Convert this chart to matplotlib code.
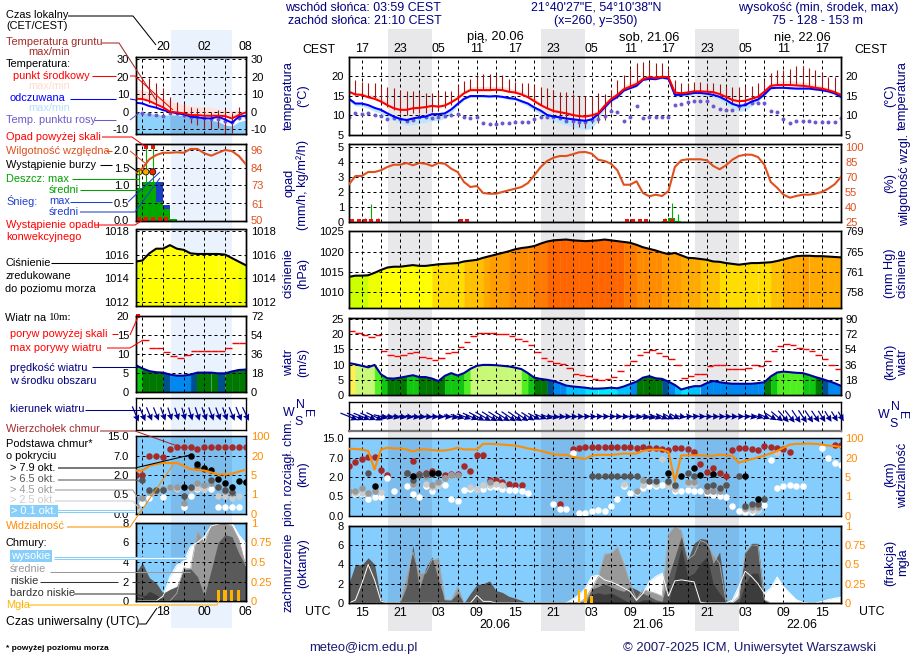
import numpy as np
import matplotlib
matplotlib.use('Agg')
import matplotlib.pyplot as plt
from matplotlib.colors import ListedColormap, BoundaryNorm

plt.rcParams['font.family'] = ['Liberation Sans', 'DejaVu Sans']

W, H = 910, 660
FS = 8.9    # header, dates, axis titles
LFS = 7.9   # left legend
YFS = 8.0   # y tick labels
NAVY = '#000080'
ORANGE = '#ff8c00'
HUMID = '#e0501e'

# Hours counted from 19.06 00 UTC
hours = list(range(13, 91))
grid_hours = list(range(15, 90, 3))
cest_labels = ['17', '23', '05', '11', '17', '23', '05', '11', '17', '23', '05', '11', '17']
utc_labels = ['15', '21', '03', '09', '15', '21', '03', '09', '15', '21', '03', '09', '15']

temp_mid = [16.0, 15.3, 15.2, 14.6, 14.2, 13.5, 12.6, 11.8, 11.4, 11.4, 11.8, 11.9, 12.1, 12.4, 12.2, 12.5, 13.3, 14.3, 15.6, 16.4,
            16.4, 16.4, 16.4, 16.5, 16.4, 16.0, 15.8, 15.3, 14.6, 13.6, 12.6, 11.8, 11.1, 10.8, 10.5, 10.1, 9.8, 9.7, 10.0,
            10.5, 12.4, 14.1, 15.2, 16.6, 17.3, 18, 19.2, 19.7, 19.5, 19.8, 19.7, 15.8, 15.6, 15.8, 16.1, 16.1, 16, 15.9, 15.4,
            14.7, 13.9, 13.6, 13.7, 14.2, 14.7, 16, 17.5, 17.7, 17.7, 17.7, 17.6, 17.5, 17.3, 17, 16.8, 16.4, 15.9, 15.2]
temp_app = [14.2, 13, 13, 12.6, 11.9, 11.4, 10.5, 9.7, 9.1, 8.8, 9.2, 9.5, 9.7, 10.3, 10.3, 10.5, 11.5, 12.9, 14.2, 14.9,
            14.9, 14.9, 14.8, 14.9, 14.7, 14.4, 14.2, 13.6, 13, 12, 11.2, 10.1, 9.7, 9.5, 9.2, 9, 8.8, 8.6, 9, 10.3,
            12, 13.7, 14.7, 16.3, 16.9, 17.5, 19, 19.3, 19.2, 19.6, 19.3, 15.2, 15.2, 15.4, 15.7, 15.7, 15.5, 15.2, 14.7,
            13.9, 12.9, 12.4, 12.6, 13.5, 14, 15.3, 16.9, 17, 17, 16.9, 16.8, 16.8, 16.8, 16.6, 16.4, 16.1, 15.6, 14.7]
temp_hi = [16.3, 15.8, 15.7, 15.3, 15.1, 14.5, 13.4, 12.6, 12.2, 12.1, 12.4, 12.4, 12.6, 12.8, 12.7, 13, 14, 15.2, 16.4, 17.2,
           17.4, 17.4, 17.4, 17.4, 17.3, 17, 16.6, 16.1, 15.3, 14.4, 13.3, 12.4, 11.8, 11.5, 11.2, 10.8, 10.5, 10.3, 10.6,
           11.4, 13.2, 14.9, 16, 17.6, 18.4, 19, 20, 20.2, 20.1, 20.2, 20.1, 16.1, 16, 16.2, 16.5, 16.5, 16.4, 16.3, 15.8,
           15.2, 14.4, 14, 14.1, 14.6, 15.2, 16.5, 18.2, 18.6, 18.8, 18.8, 18.7, 18.5, 18.2, 17.9, 17.5, 17, 16.4, 15.6]
temp_lo = [13.6, 12.4, 12.3, 11.8, 11, 10.5, 9.5, 8.6, 8, 7.5, 7.6, 8, 8.2, 8.6, 8.7, 9.2, 10.6, 12.4, 13.9, 14.6,
           14.6, 14.6, 14.5, 14.6, 14.4, 14, 13.8, 13.1, 12.3, 11.2, 10.2, 9.2, 8.5, 8, 7.5, 7, 6.6, 6.3, 6.7, 8.9,
           11.4, 13.4, 14.4, 16, 16.7, 17.3, 18.8, 19.1, 19, 19.4, 19, 14.6, 14.8, 15, 15.2, 15.2, 15, 14.6, 13.9,
           12.8, 11.8, 11, 11.2, 12.4, 13.5, 15, 16.7, 16.9, 16.9, 16.7, 16.6, 16.6, 16.6, 16.4, 16.2, 15.8, 15.2, 14]
dew_point = [9.7, 10.7, 10.3, 10.7, 10, 9.8, 9, 9.2, 9, 8.6, 8.8, 9.5, 9.7, 9.2, 9.5, 9.8, 10.1, 10.3, 9.5, 9.2,
             9.7, 8.1, 7.8, 7.8, 8.1, 8.1, 8.2, 8.2, 8.4, 9.1, 9.5, 9.5, 9.5, 9.2, 8.6, 8.6, 8.4, 8.2, 8.8, 9,
             9.9, 11.1, 10.9, 8.6, 9.7, 12.4, 9.2, 9.5, 9.7, 9.5, 9.5, 12.6, 12.9, 13.4, 13.6, 13.6, 13.7, 12.4, 11.6,
             11.4, 11.4, 12.4, 12.8, 13.1, 13.2, 13.1, 11.1, 10.9, 9, 8, 8.6, 8.6, 8.6, 8.3, 8.2, 8.2, 8.2, 9.4]
soil_hours = list(range(14, 90))
soil_max = [19, 18.6, 18.3, 18.1, 17.5, 17.1, 16.9, 16.3, 16.3, 16.1, 16, 15.8, 15.8, 16, 16.1, 16.3, 17.7, 18.7, 19.3, 20,
            20.4, 20.5, 20.5, 20.2, 19.3, 18.6, 18.3, 18.1, 17.7, 17.1, 16.9, 16.4, 16, 15.9, 15.3, 14.9, 15, 14.9,
            15.6, 15.3, 16.4, 19, 20.3, 21.9, 23.2, 23.5, 23.6, 23.4, 23.2, 21.7, 19, 18.1, 18.3, 18.4, 18.4, 18.3, 18.1,
            18, 17.5, 17.1, 17.1, 17.5, 17.5, 18.1, 19, 20.7, 21.4, 21.5, 21.9, 22.6, 22.6, 22.1, 21.5, 20.7, 19.8, 19.7]
soil_min = [15.2, 15.2, 14.7, 14.3, 13.5, 12.2, 11.4, 10.5, 10.1, 10.5, 10.5, 10.5, 10.8, 11.4, 11.8, 12.6, 13, 15.6, 16.4, 16.4,
            16.4, 16.4, 16.4, 16.4, 16.2, 15.8, 15.4, 14.7, 13.9, 12.6, 11.8, 10.9, 10.1, 8.4, 7.1, 7.1, 6.7, 9.2,
            8, 8.8, 12.2, 14.3, 16.4, 17.3, 18.1, 19.2, 19.7, 19.7, 20, 19.4, 15.2, 15.4, 15.8, 16, 16, 15.8, 15.6,
            15.2, 14.3, 13, 11.4, 13, 14.1, 14.7, 16.3, 17.5, 17.7, 17.7, 17.7, 17.7, 17.7, 17.5, 17.1, 16.9, 16.4, 15.9]

humidity = [62.7, 71, 71, 75, 75, 76.7, 80, 82.3, 82.3, 84, 81.7, 84, 83.3, 81, 84, 83.3, 78.3, 75, 65, 60,
            61, 54, 53.3, 53.3, 55, 56.7, 58.3, 60, 64, 71.7, 80, 86, 89.3, 91, 91, 92.7, 94.7, 95, 93.3, 87.3,
            86, 83.3, 76.7, 62.3, 62.3, 65.7, 54, 50.7, 52.3, 51, 56, 80, 86.7, 87.7, 87.7, 87.7, 86.7, 81, 77.7,
            81.7, 87.3, 91, 92.3, 92.3, 90, 82.3, 65, 59.3, 52.3, 49.3, 51, 52.3, 52.3, 53.3, 55, 58.3, 62.7, 70]
rain_spike_hours = [15.5, 16.5, 17.5, 62.5, 63.5, 64.5, 65.5]
rain_spike_max = [0.25, 1.2, 0.25, 0.25, 1.3, 0.55, 0.1]
rain_bar_hours = [62, 63, 64]
rain_bar_mean = [0.08, 0.3, 0.1]
convective_hours = [13.5, 14.5, 15.5, 16.5, 17.5, 30.5, 31.5, 56.5, 57.5, 58.5, 59.5, 62.5, 63.5]

pressure = [1013.8, 1014.1, 1014.1, 1014.2, 1014.8, 1015.5, 1016.1, 1016.3, 1016.3, 1016.5, 1016.7, 1016.5, 1016.5, 1016.7, 1016.9, 1017, 1017.1, 1017.2, 1017.6, 1017.8,
            1018, 1018.5, 1018.9, 1019.3, 1019.7, 1020.1, 1020.6, 1020.9, 1021.1, 1021.4, 1022, 1022.5, 1022.8, 1022.9, 1023, 1022.8, 1022.7, 1022.6, 1022.7, 1022.8,
            1023, 1022.8, 1022.6, 1022.4, 1022.2, 1021.7, 1021.1, 1020.7, 1020.3, 1019.8, 1019.4, 1019.7, 1019.1, 1018.5, 1018.4, 1018.2, 1018, 1017.6, 1017.5,
            1017.2, 1017, 1016.8, 1017, 1017.2, 1017.2, 1017.3, 1017.4, 1017.7, 1018.1, 1018.5, 1018.9, 1019, 1019, 1018.9, 1018.9, 1018.8, 1018.7, 1018.6]
pressure_levels = [1000, 1014.5, 1015.5, 1016.7, 1017.5, 1018.3, 1019, 1020, 1021.5, 1022.5, 1030]
pressure_colors = ['#ccff00', '#eeff00', '#ffff00', '#ffdd00', '#ffc000', '#ffaa00', '#ff9c00', '#ff8c00', '#ff7a00', '#ff6600']

wind = [10.5, 10.1, 9.6, 9.1, 9.9, 6.8, 5.5, 5.4, 5.7, 6.1, 6.5, 5.9, 5.9, 5.4, 4.6, 6.3, 7.2, 6.4, 7.2, 8.6,
        9.6, 9.9, 9.9, 9.8, 9.6, 9.4, 9, 8.5, 7.2, 5.7, 5.3, 5, 4.6, 3.9, 3.1, 2.8, 2.6, 2.4, 2.1, 2.1,
        2.2, 2.4, 2.2, 2.8, 3.6, 4.4, 5.7, 6.2, 5.5, 5.3, 4.4, 3.3, 1.8, 2.4, 2.9, 2.9, 3.9, 4.6, 4.2,
        3.9, 3.7, 3.7, 3.7, 3.7, 3.9, 4.2, 6.1, 7.4, 7.7, 7.5, 7.3, 7.2, 6.6, 5.9, 5.3, 4.6, 3.9, 3]
gust_hours = list(range(13, 90))
gust = [21, 20.3, 19.7, 19.1, 19.7, 14.6, 13.1, 12.7, 13, 13.7, 14, 12.6, 12.2, 11.5, 12.1, 13.9, 14.2, 15.7, 17.4, 19.4,
        20.4, 20.4, 20.4, 20.2, 20, 19.4, 18.3, 17.6, 16.4, 14.1, 12.1, 11.2, 10.5, 10.1, 8.8, 7, 6.7, 6.1, 5.4,
        5, 5.3, 5.9, 7.9, 9.9, 11.2, 13, 14.3, 14.8, 13.8, 12.9, 11.8, 9.8, 5.5, 6.2, 6.8, 6.8, 9.5, 9.8, 9.8,
        8.5, 8.5, 8.5, 8.8, 9.8, 9.5, 11.2, 14.4, 16.1, 16.8, 16.4, 15.4, 15.1, 14.4, 13.1, 11.8, 9.8, 8.5]
wind_levels = [0, 2.5, 3.4, 4.5, 5, 6, 7, 8.5, 10, 30]
wind_colors = ['#00e8ff', '#00c0ff', '#0088f0', '#005090', '#007800', '#10c810', '#50f020', '#c8f878', '#fff050']
wind_from = [292, 292, 292, 294, 296, 284, 284, 282, 280, 278, 278, 276, 276, 275, 276, 275, 282, 286, 290, 294, 298, 300, 302,
             302, 302, 304, 304, 304, 302, 298, 292, 286, 280, 276, 274, 272, 270, 268, 270, 268,
             270, 272, 274, 276, 278, 280, 282, 284, 288, 294, 298, 300, 278, 266, 266, 270, 272, 272, 272, 272, 272, 270, 272,
             280, 286, 294, 302, 310, 318, 322, 326, 326, 326, 326, 328, 328, 328, 330]

tops_h = [13, 14, 15, 16, 17, 18, 19, 22, 23, 24, 25, 26, 28, 29, 30, 31, 32, 33, 34, 35, 36, 37, 38, 39, 40, 46, 48, 49, 50,
          51, 52, 53, 54, 55, 56, 57, 58, 59, 60, 61, 62, 63, 64, 65, 66, 67, 68, 69, 70, 71, 72, 73, 74, 75, 76, 77, 78, 79, 80, 81, 82, 89, 90]
tops_km = [4.8, 5.9, 6.6, 7.4, 7.4, 3.8, 2.6, 2.9, 6.1, 2.8, 2.9, 3.5, 2.6, 2.8, 2.8, 4.8, 3.5, 8.1, 8.1, 1.75, 1.75, 1.6, 1.5, 1.35, 1.35, 0.31, 10.3, 10.7, 11.4,
           11.4, 11.4, 11.4, 11.4, 11.4, 11.4, 11.4, 10.7, 11.4, 11, 11, 10.6, 10.1, 11, 11, 10.6, 9.4, 5.4, 3.2, 4.4, 2.9, 2.2, 10.1, 11, 11, 10.3, 10.1, 11.7, 11.4, 11, 10.3, 9.4, 12.3, 12.1]
black_h = [17, 23, 26, 27, 63, 65, 67, 68, 70, 75, 77]
black_km = [1.28, 2.35, 3.1, 3.1, 3.1, 2.2, 4.2, 2.6, 2.8, 2.2, 0.44]
dark_h = [16, 22, 23, 24, 25, 26, 51, 52, 53, 54, 55, 56, 57, 58, 60, 61, 63, 64, 66, 67, 69, 70, 71, 72, 74, 75, 76, 77, 78]
dark_km = [3.1, 2.9, 1.8, 2.6, 2.8, 2.8, 2.3, 2.3, 2.3, 2.3, 2.3, 2.3, 2.3, 2.3, 1.66, 1.66, 1.7, 1.35, 2.9, 2.3, 1.3, 1.4, 1.15, 1.4, 2.2, 0.25, 0.3, 0.3, 0.43]
gray_h = [13, 14, 15, 16, 17, 22, 23, 24, 25, 26, 27, 28, 29, 30, 35, 58, 59, 63, 64, 66, 67, 69, 70, 71, 72, 75, 76, 77]
gray_km = [0.95, 0.95, 1.15, 0.8, 0.95, 2.9, 1.5, 2.6, 2.2, 1.4, 1.65, 1.95, 2.6, 2.6, 1.65, 0.9, 1.8, 1.6, 1.3, 1.65, 1.65, 0.95, 0.95, 0.9, 1.4, 0.2, 0.22, 0.24]
light_h = [13, 14, 15, 17, 18, 23, 25, 26, 27, 28, 29, 32, 33, 34, 35, 36, 37, 56, 58, 59, 61, 62, 63, 64, 66, 67, 69, 70, 71, 75, 76, 77, 80]
light_km = [0.95, 0.76, 0.8, 0.9, 0.85, 1.4, 1.5, 1.25, 1.4, 1.9, 2.4, 1.2, 1.07, 1.35, 1.4, 1.5, 1.4, 1.5, 0.95, 1.4, 1.45, 6.6, 1.28, 1.1, 1.45, 1.5, 0.95, 0.9, 0.9, 0.17, 0.16, 0.16, 9]
white_h = [14, 15, 16, 17, 18, 19, 20, 22, 23, 24, 25, 26, 27, 28, 29, 30, 31, 32, 33, 34, 35, 36, 37, 38, 39, 40, 41, 45, 46, 47, 48, 49, 50, 51, 52,
           53, 54, 55, 56, 57, 58, 59, 60, 61, 62, 63, 64, 65, 66, 67, 68, 69, 70, 71, 72, 73, 74, 75, 76, 77, 78, 79, 80, 81, 82, 83, 84, 87, 88, 89, 90]
white_km = [0.68, 0.68, 0.44, 0.5, 0.48, 1.92, 0.94, 1.28, 0.71, 0.48, 1.28, 0.94, 1.4, 1.4, 0.43, 0.39, 1.02, 1.09, 1.07, 1.09, 1.2, 1.22, 1.07, 1.02, 1.02, 0.94, 0.76, 0.31, 0.19, 0.19, 9, 0.07, 0.07, 0.14, 0.16,
            0.14, 0.26, 0.44, 1.28, 0.76, 0.84, 1.15, 1.28, 1.28, 1.35, 1.28, 0.94, 0.94, 1.02, 0.94, 0.94, 0.76, 0.63, 0.55, 0.5, 0.26, 0.14, 0.11, 0.09, 0.16, 0.28, 6.3, 1.15, 1.28, 1.4, 1.28, 1.28, 11, 6.8, 5.7, 5.2]
visibility = [56, 55, 53, 47, 10.8, 53, 60, 57, 57, 53, 45, 53, 53, 51, 48, 49, 53, 60, 53, 53, 53, 76, 76, 75, 73, 71, 69, 64, 57, 53, 47, 40, 33, 31, 31, 23, 19.5, 19,
              28, 31, 31, 31, 33, 36, 36, 36, 47, 52, 52, 52, 43, 4.1, 29, 29, 29, 29, 27, 27, 32, 29, 27, 16, 17.4, 18.7, 20, 28, 37, 47, 60, 73, 76, 76, 77, 76, 73, 69, 67, 63]

cloud_high = [0, 0.3, 2, 4, 2.4, 0.2, 0, 0, 0, 0, 0, 0, 0, 0, 0, 0, 0, 0, 0, 0, 0.8, 0.17, 0.17,
              0, 0, 0, 0, 0, 0, 0, 0, 0, 0, 0, 0, 0.4, 0.86, 1.55,
              2.75, 2.9, 2.4, 2.2, 1.9, 1.55, 1.2, 0.27, 1, 2.2, 2.75, 3.1, 0.7, 2.3, 2.4, 2.3, 2.2, 0.07, 0, 0, 0, 0, 0.3, 1.7,
              3.3, 2.75, 2, 1, 1.55, 2.7, 1.7, 1, 0.34, 0.07, 0, 0, 0.17, 0.34, 0.5, 0.6]
cloud_medium = [0, 0, 0, 0, 0, 0, 0, 0, 0.07, 2.75, 5.3, 3.1, 3.1, 4.5, 4.6, 0.34, 0.3, 1.7, 0,
                0, 0, 0, 0, 0, 0, 0, 0, 0, 0, 0, 0, 0, 0, 0, 0, 0, 0, 0.5,
                1.55, 2.75, 5.1, 5.15, 5.84, 4.1, 2, 0.34, 1.4, 1.2, 1, 0.7, 7.2, 8, 7.56, 4.5, 5, 6.5, 6.2, 5, 4.1, 0.17, 0, 0.7,
                5.15, 6, 6, 0.34, 0, 0, 0, 0, 0, 0, 0, 0, 0, 0, 0, 0]
cloud_low = [2.06, 4.02, 3.95, 4.7, 4.02, 0.34, 0.07, 0.07, 0.07, 1.7, 6, 1.44, 3.6, 4.8, 2.4, 0.34, 0.34, 1, 0, 1, 1.9, 2, 2.3, 1.3, 1.1, 0.7, 0.5, 0.27, 0,
             0, 0, 0, 0.07, 0.14, 0.03, 0, 0, 0,
             1.44, 1.7, 2, 1.7, 1.4, 1.2, 1.7, 1.4, 1, 0.7, 0.34, 0.17, 2.75, 4.8, 6.9, 4.5, 6.2, 6.7, 6.6, 4.1, 5.3, 0.34, 0, 0.5,
             5.3, 6.2, 6.2, 0.34, 0, 0, 0.05, 0.05, 0, 0, 0, 0, 0, 0, 0, 0]
cloud_vlow = [0, 0, 0, 0, 0, 0, 0, 0, 0, 0, 0, 0, 0, 0, 0, 0, 0, 0, 0, 0, 0, 0, 0, 0, 0, 0, 0, 0, 0, 0, 0, 0, 0, 0, 0, 0, 0, 0,
              0.9, 1.05, 0.9, 1.05, 0.7, 0.34, 0, 0, 0.34, 0.34, 0, 0, 0, 3, 5.8, 2.75, 3.1, 4.1, 4.8, 2, 1, 0.17, 0, 0,
              2, 3.1, 3.1, 0.17, 0, 0, 0, 0, 0, 0, 0, 0, 0, 0, 0, 0]
fog_hours = [49, 50, 51]
fog_fraction = [0.17, 0.18, 0.09]

# small panels (start of forecast)
s_hours = list(range(14, 31))
s_grid = [15, 18, 21, 24, 27]
s_temp_mid = [7.4, 7.2, 6.1, 4.2, 2.5, 0, -0.4, -0.9, -1.9, -1.9, -2.3, -2.3, -2.3, -2.5, -3.8, -1.9, -0.4]
s_temp_app = [5.1, 4.7, 3.2, 2.3, 0.9, 0, -0.9, -1.5, -2.8, -3.2, -3.8, -3.8, -2.8, -4.4, -6.3, -2.8, -2.3]
s_temp_hi = [13.3, 12.3, 11.4, 9.5, 7.5, 6.6, 4.7, 4, 3.2, 2.8, 2.8, 2.3, 1.3, 1, 0.9, 0.5, 0]
s_temp_lo = [0, -0.5, -1, -1.5, -1.9, -1.9, -2, -2.3, -3, -3.6, -4.4, -5, -5.7, -7.6, -8.2, -5.7, -4.7]
s_dew = [-0.6, -0.9, -1.5, -1.9, -2.3, -0.9, -0.9, -1.9, -2.8, -3.2, -3.6, -4, -4.4, -5.1, -5.7, -3.8, -2.8]
s_soil_hours = list(range(15, 30))
s_soil_max = [19.9, 19, 16.1, 13.3, 8.5, 5.7, 4.7, 2.5, 1.9, 0.9, 0, 0.9, 0.9, -0.9, 2.8]
s_soil_min = [6.6, 4.7, 2.8, 0.9, -0.9, -1.9, -2.8, -6.6, -7.6, -9.5, -10, -9.5, -12, -12, -3.8]
s_humidity = [81.1, 84, 89.9, 92.7, 94.2, 94.2, 94.5, 94.2, 96.7, 96.7, 93.8, 92.3, 94.2, 96, 95.3, 92.1, 86.8]
s_rain_hours = [14, 15, 16, 17, 18, 19]
s_rain_mean = [0.92, 1.08, 1.08, 0.52, 0.33, 0.05]
s_snow_mean = [0, 0, 0, 0.57, 0.1, 0]
s_spike_hours = [14.5, 15.5, 16.5]
s_spike_max = [1.3, 2.08, 2.08]
s_over_hours = [15.5, 16.5]
s_over_values = [2.08, 2.08]
s_storm_hours = [14.5, 15.5, 16.5]
s_storm_level = [1.38, 1.38, 1.38]
s_storm_colors = ['#ffee00', '#ffa500', '#ee2200']
s_conv_hours = [14.5, 15.5, 16.5, 17.5, 18.5]
s_pressure = [1015.4, 1015.5, 1016.1, 1016.5, 1016.5, 1016.8, 1016.5, 1016.4, 1016.1, 1016.05, 1016.05, 1016.05, 1016.05, 1016, 1015.7, 1015.4, 1015.1]
s_wind = [7.1, 6.2, 5.5, 5.2, 5.1, 4.6, 4.3, 4.3, 4.6, 5.1, 5.1, 5.1, 4.9, 4.9, 5.4, 5.8, 5.9]
s_gust_hours = list(range(15, 30))
s_gust = [13.6, 11.7, 11.5, 10.6, 9.6, 8.9, 9.8, 10.7, 10.9, 10.9, 10.7, 10.7, 11.7, 12.8, 13]
s_wind_from = [337, 337, 337, 338, 340, 342, 342, 344, 344, 342, 340, 340, 340, 340, 338, 338, 335]
s_tops = [2, 2, 7, 7, 6.6, 9.7, 10.6, 10.6, 10.6, 9.7, 10.6, 10.6, 10.6, 10.6, 10.6, 10.6, 10.6]
s_black_h = [21, 22, 23, 24, 25, 26, 27, 28, 29, 30]
s_black_km = [1.05, 7, 4.9, 3.9, 3.2, 1.7, 1.4, 1.05, 1.55, 1.5]
s_dark_h = [15, 16, 17, 18, 21, 22, 23, 24, 25, 26, 27, 28, 30]
s_dark_km = [1.6, 0.85, 0.85, 0.85, 0.45, 1.05, 4.1, 3.6, 1.6, 1.05, 0.85, 0.7, 1.5]
s_gray_h = [14, 15, 16, 17, 18, 19, 20, 21, 22, 23, 24, 25, 26, 27, 28]
s_gray_km = [0.2, 0.42, 0.8, 0.8, 0.95, 1.05, 1.05, 0.28, 1, 1.4, 1.2, 1.4, 1.05, 0.8, 0.65]
s_light_h = [14, 19, 20, 22, 23, 24, 26, 27, 28, 29]
s_light_km = [0.13, 1.05, 0.95, 0.9, 1.0, 0.9, 0.45, 0.45, 0.4, 0.45]
s_white_h = [15, 16, 18, 21, 22, 23, 24, 25, 26, 27, 28, 29]
s_white_km = [0.28, 0.42, 0.44, 0.17, 0.45, 0.9, 0.9, 0.9, 0.17, 0.17, 0.17, 0.17]
s_visibility = [8.4, 8.4, 12.1, 13.4, 14.2, 14.2, 14.2, 12.1, 9.5, 9, 8.4, 7, 5.5, 5.5, 6, 7.6, 9]
s_high = [0, 0, 0, 0, 0.5, 2.5, 3.7, 4.1, 5.6, 6, 6.6, 7.7, 7.9, 8, 8, 6.8, 5.9]
s_medium = [0, 0, 0, 0, 0, 0, 0.8, 3.4, 3.3, 7.2, 6, 8, 8, 8, 7.7, 6.3, 3.6]
s_low = [2.9, 3.9, 2.4, 1.85, 0.8, 1.2, 1.5, 3.2, 3.3, 2.5, 0.5, 3.2, 6, 6.8, 6.6, 4.9, 3.6]
s_vlow = [0.5, 0.3, 1, 0.65, 0.14, 0, 0, 0, 0, 0, 0, 0, 0, 0, 0, 0, 0]
s_fog_hours = [26, 27, 28, 29]
s_fog = [0.145, 0.145, 0.145, 0.145]

# nights, in hours
nights = [(19.1, 26), (43, 50), (67.2, 74)]
s_night = (19.1, 28)

base_stops = [0, 0.5, 2, 7, 15]
vis_stops = [0, 1, 5, 20, 100]
stop_pos = [0, 1, 2, 3, 4]

fig = plt.figure(figsize=(W / 100, H / 100), dpi=100, facecolor='white')

bg = fig.add_axes([0, 0, 1, 1], zorder=0)
bg.set_xlim(0, W)
bg.set_ylim(H, 0)
bg.axis('off')
ov = fig.add_axes([0, 0, 1, 1], zorder=5)
ov.set_xlim(0, W)
ov.set_ylim(H, 0)
ov.axis('off')

MAIN_X = (349, 841, (13, 90))
SMALL_X = (135.5, 245.7, (14, 30))


def label(x, y, s, color='black', ha='left', rot=0, size=LFS, **kw):
    ov.text(x, y, s, color=color, ha=ha, va='center', rotation=rot, fontsize=size, **kw)


def lead(points, color='black', lw=0.75):
    ov.plot([p[0] for p in points], [p[1] for p in points], color=color, lw=lw, solid_capstyle='butt')


def panel(xs, top, bottom, yticks, yticklabels, ref=None, ylim=None, gridx=None, pad=3.6, lcolor='black'):
    x0, x1, xlim = xs
    ax = fig.add_axes([x0 / W, 1 - bottom / H, (x1 - x0) / W, (bottom - top) / H], zorder=1)
    ax.patch.set_alpha(0)
    ax.set_xlim(*xlim)
    if ref is not None:
        va, pa, vb, pb = ref
        per_px = (va - vb) / (pb - pa)
        ax.set_ylim(vb - (bottom - pb) * per_px, va + (pa - top) * per_px)
    elif ylim is not None:
        ax.set_ylim(*ylim)
    ax.set_xticks(gridx)
    ax.set_yticks(yticks)
    ax.set_yticklabels(yticklabels)
    ax.tick_params(axis='x', length=0, labelsize=FS, labelbottom=False)
    ax.tick_params(axis='y', length=0, labelsize=YFS, pad=pad, labelcolor=lcolor)
    ax.grid(True, color='black', lw=0.72, ls=(0, (3, 3)))
    ax.set_axisbelow(False)
    for sp in ax.spines.values():
        sp.set_linewidth(1.0)
    return ax


def right_axis(ax, ticks, labels, color='black', ylim=None, pad=2.9):
    ax2 = ax.twinx()
    ax2.set_zorder(1)
    ax2.set_ylim(*(ylim if ylim is not None else ax.get_ylim()))
    ax2.set_yticks(ticks)
    ax2.set_yticklabels(labels)
    ax2.tick_params(axis='y', length=0, labelsize=YFS, pad=pad, labelcolor=color)
    for sp in ax2.spines.values():
        sp.set_linewidth(1.0)
    return ax2


def colored_fill(ax, x, y, base, levels, colors):
    cmap = ListedColormap(colors)
    norm = BoundaryNorm(levels, len(colors))
    for i in range(len(x) - 1):
        c = cmap(norm((y[i] + y[i + 1]) / 2))
        ax.fill_between(x[i:i + 2], y[i:i + 2], base, color=c, lw=0.3, zorder=1)


def temp_panel(ax, x, hi, mid, app, lo, dew, sh, smin, smax, lw):
    ax.fill_between(x, mid, hi, color='#ffe2dc', lw=0, zorder=1)
    ax.vlines(sh, smin, smax, color='#a01414', lw=0.8, zorder=3)
    ax.scatter(x, dew, s=8, color='#6a5acd', lw=0, zorder=3)
    ax.plot(x, app, color='#0000ff', lw=lw, zorder=4)
    ax.plot(x, mid, color='#ff0000', lw=lw, zorder=4)


def wind_arrows(ax, x, direction, speed, extra):
    rad = np.radians(np.array(direction) + 180)
    length = 8 + np.array(speed) * extra
    ax.quiver(x, np.zeros(len(x)), length * np.sin(rad), length * np.cos(rad), angles='uv', scale=1, scale_units='dots',
              units='dots', width=1.2, headwidth=5.5, headlength=5.5, headaxislength=5, pivot='middle', color='#000090',
              clip_on=False, zorder=4)


def base_dots(ax, series, size):
    for hx, km, col in series:
        ax.scatter(hx, km, s=size, color=col, lw=0, zorder=3)


def fwd_base(v):
    return np.interp(v, base_stops, stop_pos)


def inv_base(v):
    return np.interp(v, stop_pos, base_stops)


def fwd_vis(v):
    return np.interp(v, vis_stops, stop_pos)


def inv_vis(v):
    return np.interp(v, stop_pos, vis_stops)


def cloud_fills(ax, x, high, medium, low, vlow):
    ax.fill_between(x, high, color='white', lw=0, zorder=1)
    ax.fill_between(x, medium, color='#999999', lw=0, zorder=1.1)
    ax.fill_between(x, low, color='#5a5a5a', lw=0, zorder=1.2)
    ax.fill_between(x, vlow, color='#3c3c3c', lw=0, zorder=1.3)
    ax.plot(x, medium, color='#aaaaaa', lw=0.6, zorder=3)
    ax.plot(x, high, color='white', lw=0.7, zorder=3)


# night shading behind the panels
for a, b in nights:
    bg.axvspan(349 + (a - 13) * 492 / 77, 349 + (b - 13) * 492 / 77, ymin=1 - 631 / H, ymax=1 - 29 / H, color='#e8e8ea', lw=0)
bg.axvspan(135.5 + (s_night[0] - 14) * 110.2 / 16, 135.5 + (s_night[1] - 14) * 110.2 / 16, ymin=1 - 628 / H, ymax=1 - 30 / H, color='#eaf2fd', lw=0)

# ---- main column ----
ax = panel(MAIN_X, 57, 135, [20, 15, 10, 5], ['20', '15', '10', '5'], ref=(20, 76, 5, 135), gridx=grid_hours)
ax.fill_between(hours, temp_lo, temp_app, color='#bfe6ff', lw=0, zorder=1)
temp_panel(ax, hours, temp_hi, temp_mid, temp_app, temp_lo, dew_point, soil_hours, soil_min, soil_max, 1.5)
lab = [''] * len(grid_hours)
lab[::2] = cest_labels
ax.set_xticklabels(lab)
ax.tick_params(axis='x', labeltop=True, pad=1.8)
right_axis(ax, [20, 15, 10, 5], ['20', '15', '10', '5'])

ax = panel(MAIN_X, 144, 222, [5, 4, 3, 2, 1, 0], ['5', '4', '3', '2', '1', '0'], ref=(5, 147, 0, 222), gridx=grid_hours)
ax.bar(rain_bar_hours, rain_bar_mean, width=1, align='edge', color='#00a800', zorder=3)
ax.vlines(rain_spike_hours, 0, rain_spike_max, color='#00b000', lw=0.8, zorder=3)
ax.axhline(0.03, color='#2d6b2d', lw=1.0, zorder=2.6)
ax.scatter(convective_hours, [0.04] * len(convective_hours), s=7, marker='s', color='#ee1111', lw=0, zorder=4, clip_on=False)
ax2 = right_axis(ax, [100, 85, 70, 55, 40, 25], ['100', '85', '70', '55', '40', '25'], HUMID, ylim=(25, 25 + ax.get_ylim()[1] * 15))
ax2.plot(hours, humidity, color=HUMID, lw=1.5, zorder=4)

ax = panel(MAIN_X, 231, 308, [1025, 1020, 1015, 1010], ['1025', '1020', '1015', '1010'], ref=(1020, 251.7, 1010, 292.3), gridx=grid_hours)
colored_fill(ax, hours, pressure, ax.get_ylim()[0], pressure_levels, pressure_colors)
ax.plot(hours, pressure, color='black', lw=1.5, zorder=4)
ax2 = right_axis(ax, [1025, 1020, 1015, 1010], ['769', '765', '761', '758'])

ax = panel(MAIN_X, 318, 395, [25, 20, 15, 10, 5, 0], ['25', '20', '15', '10', '5', '0'], ref=(25, 319, 0, 395), gridx=grid_hours)
colored_fill(ax, hours, wind, 0, wind_levels, wind_colors)
ax.plot(hours, wind, color='#00009c', lw=1.5, zorder=4)
ax.hlines(gust, gust_hours, np.array(gust_hours) + 1, color='#ff0000', lw=1.0, zorder=4)
right_axis(ax, [25, 20, 15, 10, 5, 0], ['90', '72', '54', '36', '18', '0'])

ax = panel(MAIN_X, 402, 431, [], [], ylim=(-1, 1), gridx=grid_hours)
ax.spines['bottom'].set_color('#777777')
ax.spines['bottom'].set_linewidth(1.6)
wind_arrows(ax, hours, wind_from, wind, 1.0)

ax = panel(MAIN_X, 438, 516, [], [], gridx=grid_hours)
ax.set_facecolor('#85cdfd')
ax.patch.set_alpha(1)
ax.set_yscale('function', functions=(fwd_base, inv_base))
ax.set_ylim(0, 15)
ax.set_yticks([15, 7, 2, 0.5, 0])
ax.set_yticklabels(['15.0', '7.0', '2.0', '0.5', '0.0'])
ax.minorticks_off()
for a, b in nights:
    ax.axvspan(a, b, color='#7bbcec', lw=0, zorder=0.5)
base_dots(ax, [(tops_h, tops_km, '#a52a2a'), (white_h, white_km, 'white'), (light_h, light_km, '#cccccc'),
               (gray_h, gray_km, '#999999'), (dark_h, dark_km, '#555555'), (black_h, black_km, 'black')], 22)
ax2 = ax.twinx()
ax2.set_zorder(1)
ax2.set_yscale('function', functions=(fwd_vis, inv_vis))
ax2.set_ylim(0, 100)
ax2.set_yticks([100, 20, 5, 1, 0])
ax2.set_yticklabels(['100', '20', '5', '1', '0'])
ax2.minorticks_off()
ax2.tick_params(axis='y', length=0, labelsize=YFS, pad=2.9, labelcolor=ORANGE)
ax2.plot(hours, visibility, color=ORANGE, lw=1.5, zorder=4)

ax = panel(MAIN_X, 526, 603, [8, 6, 4, 2, 0], ['8', '6', '4', '2', '0'], ylim=(0, 8), gridx=grid_hours)
ax.set_facecolor('#85cdfd')
ax.patch.set_alpha(1)
for a, b in nights:
    ax.axvspan(a, b, color='#7bbcec', lw=0, zorder=0.5)
cloud_fills(ax, hours, cloud_high, cloud_medium, cloud_low, cloud_vlow)
lab = [''] * len(grid_hours)
lab[::2] = utc_labels
ax.set_xticklabels(lab)
ax.tick_params(axis='x', labelbottom=True, pad=3)
ax2 = right_axis(ax, [1, 0.75, 0.5, 0.25, 0], ['1', '0.75', '0.5', '0.25', '0'], ORANGE, ylim=(0, 1))
ax2.bar(fog_hours, fog_fraction, width=0.45, color='#ffb300', zorder=4)

# ---- small column ----
LP, RP = 4.7, 3.8
ax = panel(SMALL_X, 57, 134, [30, 20, 10, 0, -10], ['30', '20', '10', '0', '-10'], ref=(30, 59, -10, 129.3), gridx=s_grid, pad=LP)
ax.fill_between(s_hours, s_temp_lo, -14, color='#8ed2fb', lw=0, zorder=1)
ax.fill_between(s_hours, s_temp_lo, -14, where=[s_night[0] - 0.2 <= h <= s_night[1] for h in s_hours], color='#7fbcec', lw=0, zorder=1)
temp_panel(ax, s_hours, s_temp_hi, s_temp_mid, s_temp_app, s_temp_lo, s_dew, s_soil_hours, s_soil_min, s_soil_max, 1.4)
ax.set_xticks(s_grid + [30])
ax.set_xticklabels(['', '20', '', '02', '', '08'])
ax.tick_params(axis='x', labeltop=True, pad=2.9)
ax.xaxis.get_gridlines()[-1].set_visible(False)
right_axis(ax, [30, 20, 10, 0, -10], ['30', '20', '10', '0', '-10'], pad=RP)

ax = panel(SMALL_X, 144, 220.5, [2, 1.5, 1, 0.5, 0], ['2.0', '1.5', '1.0', '0.5', '0.0'], ref=(2, 150, 0, 220.5), gridx=s_grid, pad=LP)
ax.bar(s_rain_hours, s_rain_mean, width=1, align='edge', color='#00a800', zorder=1)
ax.bar(s_rain_hours, s_snow_mean, bottom=s_rain_mean, width=1, align='edge', color='#1a3fc4', zorder=1)
ax.vlines(s_spike_hours, 0, s_spike_max, color='#00b000', lw=0.8, zorder=3)
ax.scatter(s_over_hours, s_over_values, s=9, marker='s', color='#ee1111', lw=0, zorder=4, clip_on=False)
ax.scatter(s_storm_hours, s_storm_level, s=20, c=s_storm_colors, edgecolors='black', linewidths=0.5, zorder=4)
ax.scatter(s_conv_hours, [0.03] * len(s_conv_hours), s=8, marker='s', color='#ee1111', lw=0, zorder=4, clip_on=False)
ax2 = right_axis(ax, [96, 84, 73, 61, 50], ['96', '84', '73', '61', '50'], HUMID, ylim=(50, 50 + ax.get_ylim()[1] * 23), pad=RP)
ax2.plot(s_hours, s_humidity, color=HUMID, lw=1.5, zorder=4)

ax = panel(SMALL_X, 229.5, 306, [1018, 1016, 1014, 1012], ['1018', '1016', '1014', '1012'], ref=(1018, 231, 1012, 301.7), gridx=s_grid, pad=LP)
colored_fill(ax, s_hours, s_pressure, ax.get_ylim()[0], pressure_levels, pressure_colors)
ax.plot(s_hours, s_pressure, color='black', lw=1.5, zorder=4)
right_axis(ax, [1018, 1016, 1014, 1012], ['1018', '1016', '1014', '1012'], pad=RP)

ax = panel(SMALL_X, 316, 392, [20, 15, 10, 5, 0], ['20', '15', '10', '5', '0'], ref=(20, 315.7, 0, 392), gridx=s_grid, pad=LP)
colored_fill(ax, s_hours, s_wind, 0, wind_levels, wind_colors)
ax.plot(s_hours, s_wind, color='#00009c', lw=1.5, zorder=4)
ax.hlines(s_gust, s_gust_hours, np.array(s_gust_hours) + 1, color='#ff0000', lw=1.0, zorder=4)
ax.scatter([14.4], [20], s=8, marker='s', color='#ee1111', lw=0, zorder=4, clip_on=False)
right_axis(ax, [20, 15, 10, 5, 0], ['72', '54', '36', '18', '0'], pad=RP)

ax = panel(SMALL_X, 398, 430, [], [], ylim=(-1, 1), gridx=s_grid)
wind_arrows(ax, s_hours, s_wind_from, s_wind, 1.2)

ax = panel(SMALL_X, 436, 514, [], [], gridx=s_grid, pad=LP)
ax.set_facecolor('#85cdfd')
ax.patch.set_alpha(1)
ax.set_yscale('function', functions=(fwd_base, inv_base))
ax.set_ylim(0, 15)
ax.set_yticks([15, 7, 2, 0.5, 0])
ax.set_yticklabels(['15.0', '7.0', '2.0', '0.5', '0.0'])
ax.minorticks_off()
ax.axvspan(s_night[0], s_night[1], color='#7bbcec', lw=0, zorder=0.5)
base_dots(ax, [(s_hours, s_tops, '#a52a2a'), (s_white_h, s_white_km, 'white'), (s_light_h, s_light_km, '#cccccc'),
               (s_gray_h, s_gray_km, '#999999'), (s_dark_h, s_dark_km, '#555555'), (s_black_h, s_black_km, 'black')], 22)
ax2 = ax.twinx()
ax2.set_zorder(1)
ax2.set_yscale('function', functions=(fwd_vis, inv_vis))
ax2.set_ylim(0, 100)
ax2.set_yticks([100, 20, 5, 1, 0])
ax2.set_yticklabels(['100', '20', '5', '1', '0'])
ax2.minorticks_off()
ax2.tick_params(axis='y', length=0, labelsize=YFS, pad=RP, labelcolor=ORANGE)
ax2.plot(s_hours, s_visibility, color=ORANGE, lw=1.5, zorder=4)

ax = panel(SMALL_X, 523, 601, [8, 6, 4, 2, 0], ['8', '6', '4', '2', '0'], ylim=(0, 8), gridx=s_grid, pad=LP)
ax.set_facecolor('#85cdfd')
ax.patch.set_alpha(1)
ax.axvspan(s_night[0], s_night[1], color='#7bbcec', lw=0, zorder=0.5)
cloud_fills(ax, s_hours, s_high, s_medium, s_low, s_vlow)
ax.set_xticks(s_grid + [30])
ax.set_xticklabels(['', '18', '', '00', '', '06'])
ax.tick_params(axis='x', labelbottom=True, pad=3.5)
ax.xaxis.get_gridlines()[-1].set_visible(False)
ax2 = right_axis(ax, [1, 0.75, 0.5, 0.25, 0], ['1', '0.75', '0.5', '0.25', '0'], ORANGE, ylim=(0, 1), pad=RP)
ax2.bar(s_fog_hours, s_fog, width=0.45, color='#ffb300', zorder=4)

# ---- header ----
label(285, 8, 'wschód słońca: 03:59 CEST', NAVY, size=FS)
label(288, 21, 'zachód słońca: 21:10 CEST', NAVY, size=FS)
label(596, 8, '21°40\'27"E, 54°10\'38"N', NAVY, ha='center', size=FS)
label(596, 21, '(x=260, y=350)', NAVY, ha='center', size=FS)
label(818, 8, 'wysokość (min, środek, max)', NAVY, ha='center', size=FS)
label(818, 21, '75 - 128 - 153 m', NAVY, ha='center', size=FS)
label(495, 37, 'pią, 20.06', ha='center', size=9.3)
label(649, 37, 'sob, 21.06', ha='center', size=9.3)
label(802, 37, 'nie, 22.06', ha='center', size=9.3)
label(319, 50, 'CEST', ha='center', size=FS)
label(871, 50, 'CEST', ha='center', size=FS)
label(318, 612, 'UTC', ha='center', size=FS)
label(872, 612, 'UTC', ha='center', size=FS)
label(495, 625, '20.06', ha='center', size=FS)
label(648, 625, '21.06', ha='center', size=FS)
label(802, 625, '22.06', ha='center', size=FS)
label(309, 648, 'meteo@icm.edu.pl', '#191970', size=9.4)
label(623, 648, '© 2007-2025 ICM, Uniwersytet Warszawski', '#191970', size=9.45)
label(6, 648, '* powyżej poziomu morza', size=6.0, fontweight='bold')

# ---- rotated axis titles ----
for x, y, s in [(289, 96, 'temperatura'), (303, 96, '(°C)'), (289, 183, 'opad'), (303, 185, '(mm/h, kg/m²/h)'),
                (289, 273, 'ciśnienie'), (303, 273, '(hPa)'), (289, 362, 'wiatr'), (303, 362, '(m/s)'),
                (289, 473, 'pion. rozciągł. chm.'), (303, 474, '(km)'), (289, 572, 'zachmurzenie'), (303, 563, '(oktanty)'),
                (890, 96, '(°C)'), (903, 96, 'temperatura'), (890, 183, '(%)'), (905, 180, 'wilgotność wzgl.'),
                (890, 273, '(mm Hg)'), (903, 273, 'ciśnienie'), (890, 362, '(km/h)'), (903, 362, 'wiatr'),
                (890, 474, '(km)'), (903, 475, 'widzialność'), (890, 563, '(frakcja)'), (903, 562, 'mgła')]:
    size = 8.9 if s.startswith('pion') else 9.2
    label(x, y, s, NAVY, ha='center', rot=90, size=size)
for cx, cy in [(298, 413), (893, 415)]:
    label(cx - 9, cy, 'W', NAVY, ha='center', size=FS)
    label(cx + 2, cy - 8, 'N', NAVY, ha='center', size=FS)
    label(cx + 9, cy, 'E', NAVY, ha='center', rot=-90, size=FS)
    label(cx + 1, cy + 9, 'S', NAVY, ha='center', size=FS)

# ---- left legend ----
RED = '#ff0000'
BROWN = '#a52a2a'
GREEN = '#00a000'
BLUE = '#2040d0'
label(6, 15, 'Czas lokalny')
label(6, 26, '(CET/CEST)')
lead([(68, 16), (133, 16), (156, 45)])
label(6, 42, 'Temperatura gruntu', BROWN)
label(28, 52, 'max/min', BROWN)
lead([(102, 43), (119, 43), (156, 100)], BROWN)
label(6, 64, 'Temperatura:')
label(13, 76, 'punkt środkowy', RED)
lead([(92, 76), (116, 76)], RED)
lead([(130, 76), (135, 76), (173, 110)], RED)
label(28, 86, 'max/min', '#ffdccc')
label(10, 98, 'odczuwana', '#0000ff')
lead([(70, 99), (116, 99)], '#0000ff')
lead([(130, 99), (136, 100)], '#0000ff')
label(28, 108, 'max/min', '#b3e0ff')
label(6, 120, 'Temp. punktu rosy', '#6a5acd')
lead([(94, 120), (116, 120)], '#6a5acd')
lead([(130, 120), (139, 113)], '#6a5acd')
label(6, 137, 'Opad powyżej skali', RED)
lead([(102, 137), (132, 137), (146, 147)], RED)
label(6, 151, 'Wilgotność względna', HUMID)
lead([(106, 151), (112, 151)], HUMID)
lead([(130, 151), (145, 163)], HUMID)
label(6, 165, 'Wystąpienie burzy')
lead([(100, 165), (112, 165)])
lead([(128, 165), (138, 172)])
label(6, 179, 'Deszcz: max', GREEN)
lead([(72, 179), (139, 179), (139, 170)], GREEN)
label(49, 190, 'średni', GREEN)
lead([(80, 190), (146, 190)], GREEN)
label(6, 201, 'Śnieg:', BLUE)
label(49, 201, 'max', BLUE)
lead([(70, 202), (112, 202)], BLUE)
lead([(128, 202), (160, 172)], BLUE)
label(49, 212, 'średni', BLUE)
lead([(80, 212), (135, 212), (160, 178)], BLUE)
label(6, 225, 'Wystąpienie opadu', RED)
lead([(95, 225), (135, 225), (146, 218)], RED)
label(6, 237, 'konwekcyjnego', RED)

label(5, 263, 'Ciśnienie')
lead([(51, 263), (133, 263)])
label(5, 276, 'zredukowane')
label(5, 289, 'do poziomu morza')

label(5, 318, 'Wiatr na')
label(49, 318, '10m:', family='Liberation Serif')
label(10, 334, 'poryw powyżej skali', RED)
lead([(112, 334), (118, 334)], RED)
lead([(130, 335), (138, 317)], RED)
label(10, 348, 'max porywy wiatru', RED)
lead([(107, 348), (130, 348), (143, 340)], RED)
label(10, 368, 'prędkość wiatru', NAVY)
lead([(92, 367), (138, 367)], NAVY)
label(10, 381, 'w środku obszaru', NAVY)
label(10, 409, 'kierunek wiatru', NAVY)
lead([(85, 410), (140, 410)], NAVY)

label(6, 429, 'Wierzchołek chmur', BROWN)
lead([(100, 431), (135, 431), (186, 449)], BROWN)
label(6, 444, 'Podstawa chmur*')
label(6, 456, 'o pokryciu')
label(10, 468, '> 7.9 okt.')
lead([(58, 468), (135, 468), (190, 455)])
label(10, 479, '> 6.5 okt.', '#555555')
lead([(58, 480), (135, 480), (143, 482)], '#555555')
label(10, 490, '> 4.5 okt.', '#999999')
lead([(55, 490), (133, 490), (139, 500)], '#999999')
label(10, 500, '> 2.5 okt.', '#cccccc')
lead([(55, 501), (133, 501), (138, 507)], '#cccccc')
label(11, 511, '> 0.1 okt.', 'white', bbox=dict(facecolor='#87cefa', edgecolor='none', pad=1))
lead([(56, 511), (135, 511)], '#87cefa', lw=2.2)
lead([(56, 511), (135, 511)], 'white', lw=0.7)
label(6, 526, 'Widzialność', ORANGE)
lead([(67, 527), (130, 527), (173, 465)], ORANGE)
label(6, 543, 'Chmury:')
label(11, 556, 'wysokie', 'white', bbox=dict(facecolor='#87cefa', edgecolor='none', pad=1))
lead([(54, 558), (186, 558)], '#87cefa', lw=2.2)
lead([(54, 558), (186, 558)], 'white', lw=0.7)
label(10, 569, 'średnie', '#999999')
lead([(50, 572), (190, 572)], '#999999')
label(10, 581, 'niskie', '#333333')
lead([(40, 582), (118, 582)], '#333333')
lead([(132, 582), (140, 582)], '#333333')
label(10, 593, 'bardzo niskie', '#333333')
lead([(74, 594), (135, 594), (150, 598)], '#333333')
label(6, 605, 'Mgła', '#ffb300')
lead([(28, 605), (217, 605), (219, 600)], '#ffb300')
label(6, 622, 'Czas uniwersalny (UTC)', size=8.8)
lead([(139, 624), (146, 624), (157, 608)])

fig.savefig('out.png', dpi=100)
